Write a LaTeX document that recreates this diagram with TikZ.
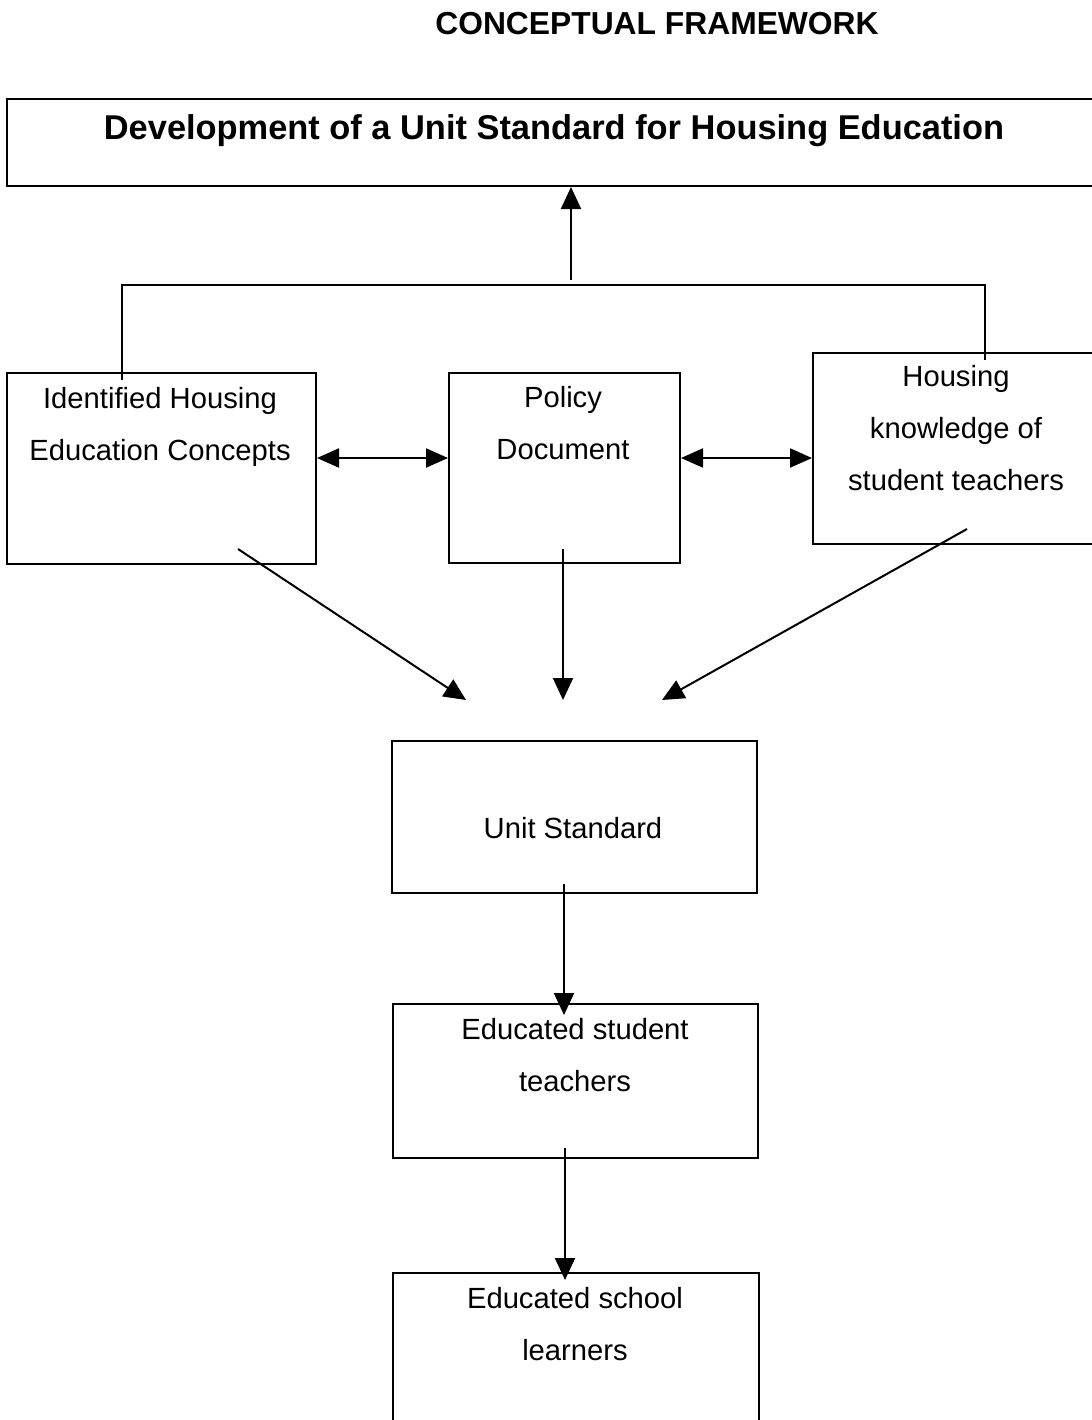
\documentclass[tikz,border=0pt]{standalone}
\usepackage{fontspec}
\setmainfont{Liberation Sans}
\usetikzlibrary{arrows.meta}
\begin{document}
\begin{tikzpicture}[x=0.5pt,y=-0.5pt,
  box/.style={draw, line width=1pt, inner sep=0pt, anchor=north west},
  lbl/.style={align=center, inner sep=0pt, font=\fontsize{14.6}{26}\selectfont},
  conn/.style={line width=1pt},
  arr/.style={conn, -{Triangle[length=11pt,width=10pt]}},
  darr/.style={conn, {Triangle[length=11pt,width=9.5pt]}-{Triangle[length=11pt,width=9.5pt]}}]
\clip (0,0) rectangle (1092,1420);
\fill[white] (0,0) rectangle (1092,1420);

% header
\node[font=\fontsize{15.9}{19}\selectfont\bfseries, inner sep=0pt] (head) at (657,24) {CONCEPTUAL FRAMEWORK};

% boxes
\node[box, minimum width=552pt, minimum height=43.5pt] (top) at (6,98) {};
\node[font=\fontsize{17.2}{20}\selectfont\bfseries, inner sep=0pt] (toptxt) at (554,131) {Development of a Unit Standard for Housing Education};

\node[box, minimum width=154.5pt, minimum height=95.5pt] (b1) at (6,372) {};
\node[lbl] (t1) at (160,427) {Identified Housing\\Education Concepts};

\node[box, minimum width=115.5pt, minimum height=95pt] (b2) at (448,372) {};
\node[lbl] (t2) at (563,423) {Policy\\Document};

\node[box, minimum width=149pt, minimum height=95.5pt] (b3) at (812,352) {};
\node[lbl] (t3) at (956,428) {Housing\\knowledge of\\student teachers};

\node[box, minimum width=182.5pt, minimum height=76pt] (us) at (391,740) {};
\node[lbl] (tus) at (573,828) {Unit Standard};

\node[box, minimum width=182.5pt, minimum height=77pt] (est) at (392,1003) {};
\node[lbl] (test) at (575,1055) {Educated student\\teachers};

\node[box, minimum width=183pt, minimum height=84pt] (esl) at (392,1272) {};
\node[lbl] (tesl) at (575,1324) {Educated school\\learners};

% connector coordinates
\coordinate (upS) at (571,280);
\coordinate (jL) at (122,380);
\coordinate (jR) at (985,360);
\coordinate (d1s) at (238,549);
\coordinate (d1e) at (466,700);
\coordinate (d2s) at (563,549);
\coordinate (d2e) at (563,700);
\coordinate (d3s) at (967,529);
\coordinate (d3e) at (662,700);
\coordinate (u1s) at (564,884);
\coordinate (u1e) at (564,1015);
\coordinate (u2s) at (565,1148);
\coordinate (u2e) at (565,1280);

% connectors
\draw[arr] (upS) -- (upS |- top.south);
\draw[conn] (jL) -- (122,285) -- (985,285) -- (jR);
\draw[darr] (b1.east |- 0,458) -- (b2.west |- 0,458);
\draw[darr] (b2.east |- 0,458) -- (b3.west |- 0,458);
\draw[arr] (d1s) -- (d1e);
\draw[arr] (d2s) -- (d2e);
\draw[arr] (d3s) -- (d3e);
\draw[arr] (u1s) -- (u1e);
\draw[arr] (u2s) -- (u2e);
\end{tikzpicture}
\end{document}
